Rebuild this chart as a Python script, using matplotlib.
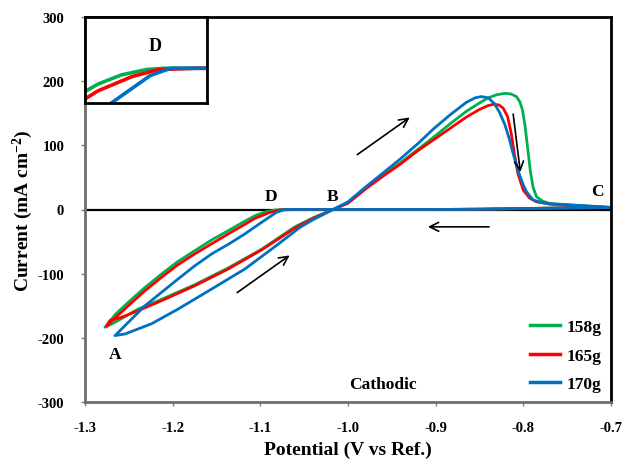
import matplotlib
matplotlib.use("Agg")
import matplotlib.pyplot as plt

plt.rcParams['font.family'] = ['Liberation Serif', 'DejaVu Serif']
plt.rcParams['font.weight'] = 'bold'
plt.rcParams['axes.unicode_minus'] = False
plt.rcParams['mathtext.fontset'] = 'custom'
plt.rcParams['mathtext.rm'] = 'Liberation Serif:bold'
plt.rcParams['mathtext.bf'] = 'Liberation Serif:bold'
plt.rcParams['mathtext.default'] = 'rm'

# Cyclic voltammograms: C -> D (cathodic), D -> A, A -> B -> peak -> C (anodic)
x_158 = [-0.700, -0.750, -0.800, -0.850, -0.900, -1.000, -1.060, -1.075, -1.0834, -1.095,
         -1.106, -1.120, -1.1366, -1.155, -1.1746, -1.195, -1.2126, -1.232, -1.2506, -1.265,
         -1.2772, -1.2658, -1.2392, -1.2126, -1.1746, -1.1366, -1.0986, -1.0606, -1.040, -1.017,
         -1.000, -0.979, -0.960, -0.941, -0.920, -0.903, -0.884, -0.865, -0.850, -0.840,
         -0.830, -0.821, -0.814, -0.808, -0.804, -0.801, -0.798, -0.795, -0.792, -0.789,
         -0.785, -0.778, -0.770, -0.735, -0.700]
y_158 = [3, 2.5, 1.5, 0.5, 0, 0, 0, 0, -0.8, -4,
         -9.6, -20, -33, -47, -64, -82, -100.5, -122, -144.6, -163,
         -183.5, -175.8, -155, -140, -117, -91, -62, -27, -13, 0,
         10, 34, 53, 72, 94, 112, 133, 153, 166, 174,
         179, 181, 180, 176, 168, 155, 130, 95, 60, 35,
         20, 13, 9.5, 6, 3]

x_165 = [-0.700, -0.750, -0.800, -0.850, -0.900, -1.000, -1.060, -1.0777, -1.090, -1.106,
         -1.120, -1.1366, -1.155, -1.1746, -1.195, -1.2126, -1.232, -1.2506, -1.265, -1.2753,
         -1.2715, -1.2582, -1.2392, -1.2126, -1.1746, -1.1366, -1.0986, -1.0606, -1.040, -1.017,
         -1.000, -0.979, -0.960, -0.941, -0.920, -0.903, -0.884, -0.865, -0.850, -0.840,
         -0.834, -0.828, -0.823, -0.818, -0.814, -0.810, -0.806, -0.800, -0.793, -0.785,
         -0.770, -0.735, -0.700]
y_165 = [3, 2.5, 1.5, 0.5, 0, 0, 0, -0.8, -5, -13.7,
         -25, -38, -53, -69, -87, -105.6, -127, -150, -168, -182,
         -173, -168, -157.6, -142, -118.7, -92.7, -63, -29, -14, 0,
         10, 33, 52, 70, 92, 108, 126, 144, 156, 162,
         164, 163, 158, 145, 120, 85, 55, 30, 18, 12,
         8.6, 5.5, 3]

x_170 = [-0.700, -0.750, -0.800, -0.850, -0.900, -1.000, -1.060, -1.072, -1.0815, -1.0986,
         -1.1176, -1.135, -1.1556, -1.175, -1.1936, -1.2126, -1.2316, -1.2506, -1.2658,
         -1.2544, -1.2392, -1.224, -1.1936, -1.1556, -1.1176, -1.0796, -1.055, -1.040, -1.017,
         -1.000, -0.979, -0.960, -0.941, -0.920, -0.903, -0.884, -0.865, -0.855, -0.848,
         -0.840, -0.833, -0.827, -0.821, -0.816, -0.812, -0.808, -0.804, -0.800, -0.796,
         -0.789, -0.780, -0.770, -0.732, -0.700]
y_170 = [3, 2.5, 1.5, 0.5, 0, 0, 0, 0, -4.4, -20,
         -38, -53, -69.3, -88, -108, -129, -150, -175.8, -196.5,
         -194, -186, -178, -155, -124, -92.7, -54, -28, -16, 0,
         12, 36, 57, 78, 103, 125, 147, 167, 174, 176,
         174, 165, 151, 132, 110, 89, 70, 52.6, 38, 26.8,
         15, 11, 8.6, 6, 3.4]

series = [
    ("158g", x_158, y_158, "#00B050"),
    ("165g", x_165, y_165, "#FF0000"),
    ("170g", x_170, y_170, "#0070C0"),
]

x_ticks = [-1.3, -1.2, -1.1, -1.0, -0.9, -0.8, -0.7]
x_tick_labels = ["-1.3", "-1.2", "-1.1", "-1.0", "-0.9", "-0.8", "-0.7"]
y_ticks = [-300, -200, -100, 0, 100, 200, 300]

W, H = 625, 460
fig = plt.figure(figsize=(W / 100, H / 100), dpi=100)
ax = fig.add_axes([85 / W, 57 / H, 526 / W, 385 / H])

ax.axhline(0, color="black", lw=1.6, zorder=1)
for name, xs, ys, col in series:
    ax.plot(xs, ys, color=col, lw=2.0, label=name, solid_joinstyle="round", zorder=2)

ax.set_xlim(-1.3, -0.7)
ax.set_ylim(-300, 300)
ax.set_xticks(x_ticks)
ax.set_xticklabels(x_tick_labels)
ax.set_yticks(y_ticks)
ax.tick_params(axis="both", direction="out", length=3, width=1, color="#808080",
               labelsize=10.5)
ax.tick_params(axis="x", pad=11)
ax.tick_params(axis="y", pad=12)
for lab in ax.get_xticklabels() + ax.get_yticklabels():
    lab.set_fontweight("bold")

for side in ("left", "bottom"):
    ax.spines[side].set_color("#6e6e6e")
    ax.spines[side].set_linewidth(2.0)
for side in ("top", "right"):
    ax.spines[side].set_color("black")
    ax.spines[side].set_linewidth(2.0)

ax.set_xlabel("Potential (V vs Ref.)", fontsize=14, fontweight="bold")
ax.set_ylabel("Current (mA cm$^{-2}$)", fontsize=14, fontweight="bold")
ax.xaxis.label.set_va("center")
ax.xaxis.set_label_coords(0.5, (H - 450 - 57) / 385)
ax.yaxis.label.set_va("center")
ax.yaxis.set_label_coords((23 - 85) / 526, 0.5)

# Point labels
txt = dict(fontsize=12.5, fontweight="bold", ha="center", va="center")
ax.text(-1.088, 21, "D", **txt)
ax.text(-1.018, 21, "B", **txt)
ax.text(-0.715, 29, "C", **txt)
ax.text(-1.266, -225, "A", **txt)
ax.text(-0.960, -272, "Cathodic", **txt)

# Scan direction arrows
arrow = dict(arrowstyle="->", color="black", lw=1.2, mutation_scale=16)
ax.annotate("", xy=(-1.064, -69), xytext=(-1.129, -132), arrowprops=arrow)
ax.annotate("", xy=(-0.927, 146), xytext=(-0.992, 83), arrowprops=arrow)
ax.annotate("", xy=(-0.803, 54), xytext=(-0.812, 153), arrowprops=arrow)
ax.annotate("", xy=(-0.912, -27), xytext=(-0.836, -27), arrowprops=arrow)

leg = ax.legend(loc="lower right", bbox_to_anchor=(1.0, 0.0), frameon=False,
                prop={"family": "Liberation Serif", "weight": "bold", "size": 12.5},
                handlelength=1.75, handletextpad=0.35, labelspacing=0.72,
                borderaxespad=0.15)
for line in leg.get_lines():
    line.set_linewidth(2.5)

# Inset: magnified view around point D
axi = fig.add_axes([85 / W, (H - 104) / H, 122 / W, 86 / H])
for name, xs, ys, col in series:
    axi.plot(xs, ys, color=col, lw=2.6, solid_joinstyle="round")
axi.set_xlim(-1.112, -1.055)
axi.set_ylim(-21, 31)
axi.set_xticks([])
axi.set_yticks([])
for s in axi.spines.values():
    s.set_color("black")
    s.set_linewidth(2.0)
axi.text(0.574, 0.663, "D", transform=axi.transAxes, fontsize=13,
         fontweight="bold", ha="center", va="center")

fig.savefig("out.png", dpi=100)
